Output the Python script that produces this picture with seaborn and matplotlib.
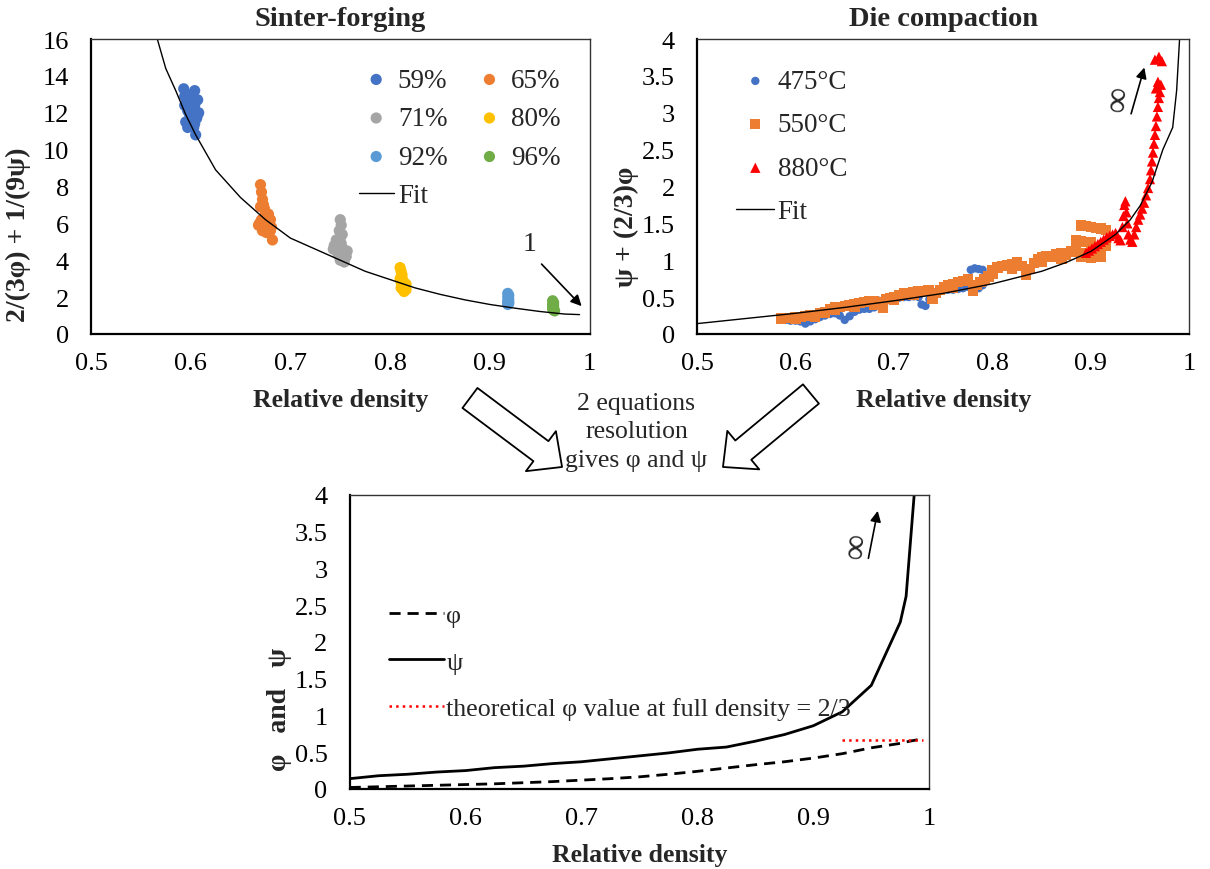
import matplotlib
matplotlib.use("Agg")
import matplotlib.pyplot as plt
from matplotlib.patches import FancyArrowPatch
from matplotlib.ticker import FuncFormatter
import seaborn as sns

# ---- Sinter-forging data (relative density, 2/(3phi) + 1/(9psi)) ----
x59 = [0.593, 0.596, 0.598, 0.600, 0.602, 0.604, 0.607, 0.594, 0.597, 0.599, 0.601, 0.603,
       0.605, 0.608, 0.595, 0.598, 0.600, 0.602, 0.604, 0.606, 0.594, 0.599, 0.603, 0.605,
       0.596, 0.600, 0.604, 0.607, 0.597, 0.601]
y59 = [13.3, 13.0, 12.8, 12.5, 12.9, 13.2, 12.7, 12.4, 12.1, 11.9, 12.2, 12.6,
       11.8, 12.0, 11.5, 11.3, 11.6, 11.9, 11.4, 11.7, 12.9, 12.3, 11.2, 10.8,
       12.6, 12.9, 12.4, 11.9, 11.2, 11.4]
x65 = [0.670, 0.671, 0.672, 0.670, 0.673, 0.675, 0.674, 0.676, 0.678, 0.680, 0.669, 0.671,
       0.673, 0.675, 0.677, 0.679, 0.681, 0.668, 0.672, 0.676, 0.680, 0.682, 0.674, 0.678]
y65 = [8.1, 7.7, 7.3, 6.9, 7.0, 6.5, 6.8, 6.3, 6.5, 6.2, 6.0, 6.2,
       6.0, 5.8, 5.9, 6.1, 5.8, 5.9, 5.6, 5.5, 5.6, 5.1, 5.9, 6.0]
x71 = [0.750, 0.751, 0.749, 0.752, 0.750, 0.748, 0.746, 0.744, 0.743, 0.747, 0.751,
       0.753, 0.755, 0.757, 0.754, 0.752, 0.749, 0.746, 0.750, 0.754, 0.756, 0.748]
y71 = [6.2, 5.9, 5.6, 5.4, 5.2, 5.0, 5.1, 4.8, 4.6, 4.7, 4.9,
       4.6, 4.4, 4.5, 4.3, 4.1, 4.4, 4.6, 4.0, 3.9, 4.2, 4.3]
x80 = [0.810, 0.811, 0.812, 0.810, 0.811, 0.813, 0.812, 0.814, 0.815, 0.816, 0.813, 0.811, 0.814, 0.816]
y80 = [3.6, 3.4, 3.2, 3.0, 2.8, 2.9, 2.6, 2.7, 2.5, 2.7, 2.4, 2.5, 2.3, 2.4]
x92 = [0.918, 0.919, 0.918, 0.919, 0.918, 0.919, 0.918, 0.919, 0.918]
y92 = [2.2, 2.1, 2.0, 1.9, 1.8, 1.75, 1.7, 1.65, 1.6]
x96 = [0.963, 0.964, 0.963, 0.964, 0.963, 0.964, 0.963, 0.964, 0.965]
y96 = [1.8, 1.7, 1.6, 1.55, 1.5, 1.4, 1.35, 1.3, 1.25]

sf_fit_x = [0.5665, 0.575, 0.585, 0.595, 0.605, 0.625, 0.65, 0.675, 0.7, 0.725, 0.75, 0.775,
            0.8, 0.825, 0.85, 0.875, 0.9, 0.925, 0.95, 0.975, 0.99]
sf_fit_y = [16, 14.4, 13.2, 11.9, 10.8, 8.9, 7.4, 6.2, 5.2, 4.6, 4.0, 3.4,
            2.95, 2.5, 2.15, 1.85, 1.6, 1.4, 1.22, 1.08, 1.05]

# ---- Die compaction data (relative density, psi + (2/3)phi) ----
x475 = [0.590, 0.595, 0.600, 0.605, 0.610, 0.615, 0.620, 0.625, 0.630, 0.635, 0.640, 0.645,
        0.650, 0.655, 0.660, 0.665, 0.670, 0.675, 0.680, 0.685, 0.690, 0.695, 0.700, 0.705,
        0.710, 0.715, 0.720, 0.725, 0.728, 0.732, 0.736, 0.740, 0.745, 0.750, 0.755, 0.760,
        0.765, 0.770, 0.775, 0.778, 0.782, 0.786, 0.790, 0.786, 0.790]
y475 = [0.19, 0.18, 0.18, 0.17, 0.14, 0.17, 0.20, 0.23, 0.25, 0.27, 0.28, 0.25,
        0.19, 0.24, 0.30, 0.33, 0.34, 0.34, 0.36, 0.45, 0.46, 0.46, 0.48, 0.49,
        0.50, 0.50, 0.51, 0.50, 0.40, 0.38, 0.47, 0.52, 0.58, 0.61, 0.60, 0.60,
        0.61, 0.62, 0.64, 0.87, 0.89, 0.88, 0.87, 0.62, 0.66]
x550 = [0.585, 0.590, 0.595, 0.600, 0.605, 0.610, 0.615, 0.620, 0.625, 0.630, 0.635, 0.640,
        0.645, 0.650, 0.655, 0.660, 0.665, 0.670, 0.675, 0.680, 0.685, 0.689, 0.692, 0.696,
        0.700, 0.705, 0.710, 0.715, 0.720, 0.725, 0.730, 0.735, 0.739, 0.743, 0.747, 0.751,
        0.755, 0.760, 0.765, 0.770, 0.775, 0.780, 0.784, 0.788, 0.792, 0.796, 0.800, 0.805,
        0.810, 0.815, 0.820, 0.825, 0.830, 0.834, 0.838, 0.842, 0.846, 0.850, 0.855, 0.860,
        0.865, 0.870, 0.875, 0.880, 0.885, 0.890, 0.895, 0.900, 0.905, 0.910, 0.915,
        0.600, 0.620, 0.640, 0.660, 0.680, 0.700, 0.720, 0.740, 0.760, 0.780, 0.800, 0.820,
        0.850, 0.870, 0.890, 0.900, 0.910, 0.890, 0.895, 0.900, 0.905, 0.910, 0.915,
        0.885, 0.890, 0.895, 0.900]
y550 = [0.21, 0.22, 0.22, 0.23, 0.23, 0.24, 0.26, 0.25, 0.28, 0.29, 0.33, 0.36,
        0.37, 0.38, 0.39, 0.40, 0.42, 0.43, 0.44, 0.45, 0.43, 0.36, 0.47, 0.49,
        0.50, 0.52, 0.55, 0.56, 0.57, 0.58, 0.58, 0.60, 0.47, 0.56, 0.60, 0.63,
        0.66, 0.68, 0.70, 0.72, 0.74, 0.58, 0.66, 0.70, 0.74, 0.78, 0.86, 0.90,
        0.92, 0.93, 0.95, 0.97, 0.92, 0.80, 0.88, 0.96, 1.02, 1.04, 1.06, 1.05,
        1.08, 1.09, 1.07, 1.12, 1.15, 1.10, 1.08, 1.12, 1.06, 1.10, 1.20,
        0.20, 0.23, 0.33, 0.37, 0.40, 0.46, 0.53, 0.55, 0.62, 0.65, 0.82, 0.88,
        0.98, 1.02, 1.05, 1.03, 1.04, 1.47, 1.46, 1.45, 1.44, 1.43, 1.41,
        1.27, 1.26, 1.25, 1.24]
x880 = [0.895, 0.898, 0.901, 0.904, 0.907, 0.910, 0.913, 0.916, 0.919, 0.922, 0.925, 0.928,
        0.930, 0.932, 0.933, 0.934, 0.935, 0.936, 0.937, 0.938, 0.940, 0.942, 0.944, 0.946,
        0.948, 0.950, 0.952, 0.954, 0.956, 0.958, 0.960, 0.961, 0.962, 0.963, 0.964, 0.965,
        0.966, 0.967, 0.968, 0.969, 0.970, 0.966, 0.968, 0.971, 0.965, 0.969, 0.972]
y880 = [1.10, 1.13, 1.16, 1.19, 1.22, 1.25, 1.28, 1.31, 1.33, 1.35, 1.37, 1.30,
        1.27, 1.45, 1.60, 1.75, 1.80, 1.65, 1.50, 1.35, 1.28, 1.25, 1.35, 1.45,
        1.55, 1.62, 1.70, 1.78, 1.88, 1.98, 2.10, 2.22, 2.34, 2.46, 2.58, 2.70,
        2.82, 2.95, 3.08, 3.20, 3.28, 3.33, 3.42, 3.38, 3.72, 3.76, 3.70]

dc_fit_x = [0.5, 0.55, 0.6, 0.65, 0.7, 0.75, 0.8, 0.85, 0.875, 0.9, 0.925, 0.94, 0.95,
            0.962, 0.973, 0.983, 0.987, 0.99]
dc_fit_y = [0.14, 0.21, 0.28, 0.36, 0.45, 0.55, 0.68, 0.85, 0.97, 1.12, 1.35, 1.55, 1.74,
            2.06, 2.5, 2.8, 3.3, 4.0]

# ---- resolved phi and psi ----
rd = [0.5, 0.525, 0.55, 0.575, 0.6, 0.625, 0.65, 0.675, 0.7, 0.725, 0.75, 0.775, 0.8,
      0.825, 0.85, 0.875, 0.9, 0.925, 0.95, 0.975, 0.98, 0.99]
phi = [0.02, 0.03, 0.04, 0.05, 0.06, 0.07, 0.085, 0.10, 0.12, 0.14, 0.165, 0.20, 0.24,
       0.285, 0.33, 0.37, 0.42, 0.48, 0.56, 0.62, 0.64, 0.67]
psi = [0.14, 0.18, 0.20, 0.23, 0.25, 0.29, 0.31, 0.345, 0.37, 0.41, 0.45, 0.49, 0.54,
       0.57, 0.65, 0.74, 0.86, 1.05, 1.41, 2.27, 2.62, 4.6]
phi_full_x = [0.925, 0.995]
phi_full_y = [2 / 3, 2 / 3]

sns.set_style("white")
plt.rcParams["font.family"] = ["Liberation Serif", "DejaVu Serif"]

FS = 19
LAB = 18.5
fig = plt.figure(figsize=(12.1, 8.7), dpi=100)
ax1 = fig.add_axes([0.0752, 0.615, 0.412, 0.339])
ax2 = fig.add_axes([0.576, 0.615, 0.407, 0.339])
ax3 = fig.add_axes([0.289, 0.092, 0.479, 0.338])


def style_axes(ax, yticks, xlabel, ylabel, ylab_pos):
    ax.set_xlim(0.5, 1.0)
    ax.set_xticks([0.5, 0.6, 0.7, 0.8, 0.9, 1.0])
    ax.set_ylim(yticks[0], yticks[-1])
    ax.set_yticks(yticks)
    fmt = FuncFormatter(lambda v, p: "%g" % v)
    ax.xaxis.set_major_formatter(fmt)
    ax.yaxis.set_major_formatter(fmt)
    ax.tick_params(axis="both", direction="in", length=5, width=1.2, labelsize=FS, colors="k")
    ax.tick_params(axis="x", pad=13)
    ax.tick_params(axis="y", pad=16)
    for side in ["left", "bottom"]:
        ax.spines[side].set_linewidth(1.6)
        ax.spines[side].set_color("k")
    for side in ["top", "right"]:
        ax.spines[side].set_linewidth(1.0)
        ax.spines[side].set_color("#333333")
        ax.spines[side].set_visible(True)
    ax.set_xlabel(xlabel, fontsize=LAB, fontweight="bold", labelpad=10)
    ax.set_ylabel(ylabel, fontsize=20, fontweight="bold")
    ax.yaxis.set_label_coords(*ylab_pos)


# ---- top left: sinter-forging ----
groups = [("59%", x59, y59, "#4472C4"), ("65%", x65, y65, "#ED7D31"),
          ("71%", x71, y71, "#A5A5A5"), ("80%", x80, y80, "#FFC000"),
          ("92%", x92, y92, "#5B9BD5"), ("96%", x96, y96, "#70AD47")]
for lab, xs, ys, col in groups:
    sns.scatterplot(x=xs, y=ys, ax=ax1, color=col, s=65, edgecolor="none", label=lab, legend=False)
sns.lineplot(x=sf_fit_x, y=sf_fit_y, ax=ax1, color="k", lw=1.0, label="Fit", legend=False)
style_axes(ax1, [0, 2, 4, 6, 8, 10, 12, 14, 16], "Relative density", "2/(3φ) + 1/(9ψ)",
           (-0.12, 0.34))
ax1.set_title("Sinter-forging", fontsize=20.5, fontweight="bold", pad=10)
h, l = ax1.get_legend_handles_labels()
order = [0, 2, 4, 6, 1, 3, 5]
ax1.legend([h[i] for i in order], [l[i] for i in order], ncol=2, frameon=False, fontsize=19.5,
           loc="upper left", bbox_to_anchor=(0.515, 0.94), handlelength=1.3, handletextpad=0.15,
           columnspacing=0.9, labelspacing=0.5, borderaxespad=0)
ax1.annotate("", xy=(0.994, 1.4), xytext=(0.95, 3.9),
             arrowprops=dict(arrowstyle="-|>", color="k", lw=1.2, mutation_scale=16))
ax1.text(0.94, 4.9, "1", fontsize=20, ha="center", va="center")

# ---- top right: die compaction ----
sns.scatterplot(x=x475, y=y475, ax=ax2, color="#4472C4", marker="o", s=36, edgecolor="none",
                label="475°C", legend=False)
sns.scatterplot(x=x550, y=y550, ax=ax2, color="#ED7D31", marker="s", s=55, edgecolor="none",
                label="550°C", legend=False)
sns.scatterplot(x=x880, y=y880, ax=ax2, color="#FF0000", marker="^", s=55, edgecolor="none",
                label="880°C", legend=False)
sns.lineplot(x=dc_fit_x, y=dc_fit_y, ax=ax2, color="k", lw=1.0, label="Fit", legend=False)
style_axes(ax2, [0, 0.5, 1, 1.5, 2, 2.5, 3, 3.5, 4], "Relative density", "ψ + (2/3)φ",
           (-0.117, 0.366))
ax2.set_title("Die compaction", fontsize=20.5, fontweight="bold", pad=10)
ax2.legend(frameon=False, fontsize=19.5, loc="upper left", bbox_to_anchor=(0.058, 0.935),
           handlelength=1.4, handletextpad=0.12, labelspacing=0.68, borderaxespad=0)
ax2.annotate("", xy=(0.955, 3.65), xytext=(0.94, 2.95),
             arrowprops=dict(arrowstyle="-|>", color="k", lw=1.2, mutation_scale=16))
ax2.text(0.928, 3.2, "∞", fontsize=26, ha="center", va="center", rotation=86)

# ---- bottom: phi and psi ----
sns.lineplot(x=rd, y=phi, ax=ax3, color="k", lw=2.0, label="φ", legend=False)
ax3.lines[-1].set_dashes([4, 2.5])
sns.lineplot(x=rd, y=psi, ax=ax3, color="k", lw=2.0, label="ψ", legend=False)
sns.lineplot(x=phi_full_x, y=phi_full_y, ax=ax3, color="red", lw=1.8, ls=":",
             label="theoretical φ value at full density = 2/3", legend=False)
style_axes(ax3, [0, 0.5, 1, 1.5, 2, 2.5, 3, 3.5, 4], "Relative density", "φ   and   ψ",
           (-0.10, 0.275))
ax3.legend(frameon=False, fontsize=18.7, loc="upper left", bbox_to_anchor=(0.05, 0.665),
           handlelength=2.1, handletextpad=0.1, labelspacing=0.9, borderaxespad=0)
ax3.annotate("", xy=(0.956, 3.82), xytext=(0.947, 3.1),
             arrowprops=dict(arrowstyle="-|>", color="k", lw=1.2, mutation_scale=16))
ax3.text(0.937, 3.32, "∞", fontsize=26, ha="center", va="center", rotation=86)

# ---- block arrows and middle text ----
for tail, tip in [((0.3884, 0.5414), (0.4645, 0.4621)), ((0.6702, 0.5460), (0.5975, 0.4621))]:
    fig.add_artist(FancyArrowPatch(tail, tip, transform=fig.transFigure,
                                   arrowstyle="simple,head_length=19,head_width=36,tail_width=18",
                                   mutation_scale=1, shrinkA=0, shrinkB=0,
                                   fc="white", ec="k", lw=1.3))
fig.text(0.526, 0.503, "2 equations\nresolution\ngives φ and ψ", fontsize=18.5, ha="center",
         va="center", linespacing=1.38)

plt.savefig("out.png", dpi=100)
